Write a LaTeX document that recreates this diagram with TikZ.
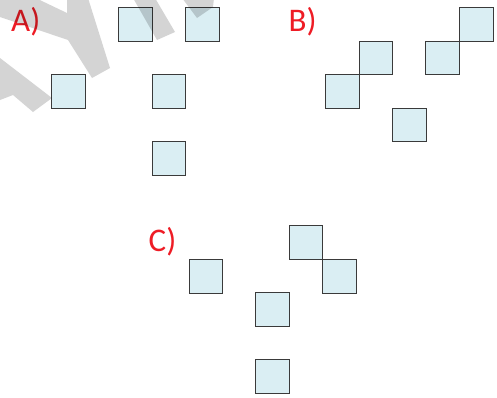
\documentclass[tikz,border=0pt]{standalone}
\usepackage{fontspec}
\setmainfont{Carlito}
\usetikzlibrary{positioning}
\definecolor{cellfill}{HTML}{DAEEF3}
\definecolor{celldraw}{HTML}{3A3A3A}
\definecolor{labelred}{HTML}{EE1C25}

\tikzset{
  cell/.style={draw=celldraw, fill=cellfill, line width=0.9pt, minimum size=33.5pt, inner sep=0pt},
  tag/.style={font=\fontsize{33}{33}\selectfont, text=labelred, anchor=base west, inner sep=0pt},
  wmark/.style={fill=black, fill opacity=0.17, draw=none}
}

\begin{document}
\begin{tikzpicture}[x=1pt, y=-1pt]
  \useasboundingbox (0,0) rectangle (497,397);
  % Labels
  \node[tag] (tagA) at (11,31.7) {A)};
  \node[tag] (tagB) at (288.5,31.7) {B)};
  \node[tag] (tagC) at (148.5,251.7) {C)};
  % Group A
  \node[cell] (a1) at (135.5,24.5) {};
  \node[cell] (a2) at (202.3,24.5) {};
  \node[cell] (a3) at (68.5,91.5) {};
  \node[cell] (a4) at (168.8,91.5) {};
  \node[cell] (a5) at (168.8,158.3) {};
  % Group B
  \node[cell] (b1) at (476.2,24.5) {};
  \node[cell] (b2) at (442.6,58.1) {};
  \node[cell] (b3) at (375.8,58.1) {};
  \node[cell] (b4) at (342.3,91.6) {};
  \node[cell] (b5) at (409.2,125.0) {};
  % Group C
  \node[cell] (c1) at (205.7,276.2) {};
  \node[cell] (c2) at (306.0,242.6) {};
  \node[cell] (c3) at (339.6,276.2) {};
  \node[cell] (c4) at (272.5,309.6) {};
  \node[cell] (c5) at (272.5,376.5) {};
  % Watermark
  \fill[wmark] (0,-19) -- (67,13) -- (67,-2) -- (88,-2) -- (110,68) -- (92,78)
    -- (68,40) -- (0,17) -- cycle;
  \fill[wmark] (0,58) -- (52,98) -- (33,112) -- (13,95) -- (0,100) -- cycle;
  \fill[wmark] (133,-2) -- (155,-2) -- (175,32) -- (157,40) -- cycle;
  \fill[wmark] (182,-2) -- (214,-2) -- (213,7) -- (197,18) -- cycle;
\end{tikzpicture}
\end{document}
